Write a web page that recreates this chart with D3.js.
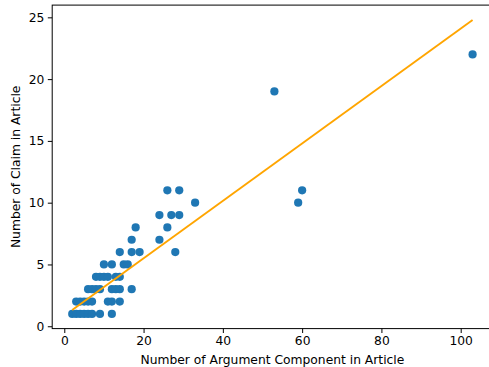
<!DOCTYPE html>
<html>
<head>
<meta charset="utf-8">
<script src="https://cdn.jsdelivr.net/npm/d3@7"></script>
<style>
  html, body { margin: 0; padding: 0; background: #fff; }
  svg { display: block; }
  text { font-family: "DejaVu Sans", sans-serif; fill: #000; }
</style>
</head>
<body>
<script>
// Data
const argComponents = [2,3,4,5,6,7,9,12, 3,4,5,6,7,11,12,14, 6,7,8,9,12,13,14,17, 8,9,10,11,13,14, 10,12,15,16, 14,17,19,28, 17,24, 18,26, 24,27,29, 33,59, 26,29,60, 53, 103];
const claims =        [1,1,1,1,1,1,1,1,  2,2,2,2,2,2,2,2,  3,3,3,3,3,3,3,3,  4,4,4,4,4,4,  5,5,5,5,  6,6,6,6,  7,7,  8,8,  9,9,9,  10,10, 11,11,11, 19, 22];
const fitX = [2, 103];
const fitY = [1.32, 24.78];
const xTicks = [0, 20, 40, 60, 80, 100];
const yTicks = [0, 5, 10, 15, 20, 25];
const xLabel = "Number of Argument Component in Article";
const yLabel = "Number of Claim in Article";

(function () {
const W = 489, H = 367;
const pL = 52.2, pR = 492.6, pT = 5.1, pB = 328.6;
const fs = 12.3;

const svg = d3.select("body").append("svg").attr("width", W).attr("height", H);

const x = d3.scaleLinear().domain([-3.05, 108.05]).range([pL, pR]);
const y = d3.scaleLinear().domain([-0.19, 25.99]).range([pB, pT]);

// points
svg.append("g").selectAll("circle")
  .data(argComponents.map((v, i) => [v, claims[i]]))
  .join("circle")
  .attr("cx", d => x(d[0]))
  .attr("cy", d => y(d[1]))
  .attr("r", 4.1)
  .attr("fill", "#1f77b4");

// fit line
svg.append("path")
  .datum(fitX.map((v, i) => [v, fitY[i]]))
  .attr("d", d3.line().x(d => x(d[0])).y(d => y(d[1])))
  .attr("fill", "none")
  .attr("stroke", "#FFA500")
  .attr("stroke-width", 1.9);

// x axis
const gx = svg.append("g").attr("transform", `translate(0,${pB})`)
  .call(d3.axisBottom(x).tickValues(xTicks).tickSize(4.4).tickPadding(3.4).tickSizeOuter(0));
gx.select(".domain").remove();
gx.selectAll("line").attr("stroke", "#000").attr("stroke-width", 1);
gx.selectAll("text").attr("font-size", fs).attr("font-family", "DejaVu Sans").attr("fill", "#000");

// y axis
const gy = svg.append("g").attr("transform", `translate(${pL},0)`)
  .call(d3.axisLeft(y).tickValues(yTicks).tickSize(4.4).tickPadding(3.4).tickSizeOuter(0));
gy.select(".domain").remove();
gy.selectAll("line").attr("stroke", "#000").attr("stroke-width", 1);
gy.selectAll("text").attr("font-size", fs).attr("font-family", "DejaVu Sans").attr("fill", "#000");

// frame
svg.append("rect")
  .attr("x", pL).attr("y", pT)
  .attr("width", pR - pL).attr("height", pB - pT)
  .attr("fill", "none").attr("stroke", "#000").attr("stroke-width", 1);

// labels
svg.append("text")
  .attr("x", (pL + pR) / 2).attr("y", 364)
  .attr("text-anchor", "middle").attr("font-size", fs)
  .text(xLabel);

svg.append("text")
  .attr("transform", `translate(19.5,${(pT + pB) / 2}) rotate(-90)`)
  .attr("text-anchor", "middle").attr("font-size", fs)
  .text(yLabel);
})();
</script>
</body>
</html>
